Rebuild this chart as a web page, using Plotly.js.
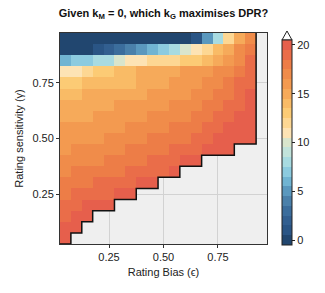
<!DOCTYPE html>
<html><head><meta charset="utf-8">
<script src="https://cdn.plot.ly/plotly-3.0.1.min.js"></script>
<style>html,body{margin:0;padding:0;background:#fff;}#chart{width:325px;height:293px;}</style>
</head><body><div id="chart"></div>
<script>
// Rating bias (epsilon) cell centres
const epsilon = [0.05,0.10,0.15,0.20,0.25,0.30,0.35,0.40,0.45,0.50,0.55,0.60,0.65,0.70,0.75,0.80,0.85,0.90,0.95];
// Rating sensitivity (gamma) cell centres, top row first
const gamma = [0.95,0.90,0.85,0.80,0.75,0.70,0.65,0.60,0.55,0.50,0.45,0.40,0.35,0.30,0.25,0.20,0.15,0.10,0.05];
const N = null;
// best k_G per (gamma row, epsilon column); null = infeasible
const bestKG = [
 [0,0,0,0,0,0,0,0,0,0,0,0,1,5,8,12,15,17,N],
 [0,0,0,1,2,3,4,5,6,7,8,10,11,12,14,15,17,18,N],
 [6,7,7,8,8,10,11,11,12,12,12,13,13,14,15,16,17,19,N],
 [11,11,12,13,13,14,14,15,15,15,15,16,16,16,17,17,18,19,N],
 [13,13,14,14,14,14,14,15,15,15,16,16,16,17,17,18,19,19,N],
 [14,14,15,15,15,15,15,15,16,16,16,16,17,17,18,18,19,20,N],
 [15,15,15,15,15,16,16,16,16,16,17,17,17,18,18,19,19,20,N],
 [15,15,15,16,16,16,16,16,17,17,17,17,18,18,19,19,20,20,N],
 [16,16,16,16,16,16,17,17,17,17,18,18,18,19,19,20,20,20,N],
 [16,16,16,16,17,17,17,17,18,18,18,18,19,19,20,20,20,20,N],
 [16,17,17,17,17,17,18,18,18,18,19,19,19,20,20,20,N,N,N],
 [17,17,17,17,18,18,18,18,19,19,19,20,20,N,N,N,N,N,N],
 [17,18,18,18,18,18,19,19,19,19,20,N,N,N,N,N,N,N,N],
 [18,18,18,19,19,19,19,20,20,N,N,N,N,N,N,N,N,N,N],
 [18,19,19,19,19,20,20,N,N,N,N,N,N,N,N,N,N,N,N],
 [19,19,20,20,20,N,N,N,N,N,N,N,N,N,N,N,N,N,N],
 [19,20,20,N,N,N,N,N,N,N,N,N,N,N,N,N,N,N,N],
 [20,20,N,N,N,N,N,N,N,N,N,N,N,N,N,N,N,N,N],
 [20,N,N,N,N,N,N,N,N,N,N,N,N,N,N,N,N,N,N]
];
const levelColors = ['#21466f','#2a5585','#325f90','#3b6d9c','#4a80aa','#5a98be','#70b4d2','#8ccbdf','#a8dbe1','#c2e3db','#d9e5cc','#fde3b4','#fdd793','#fccb75','#f9bb66','#f6aa5a','#f39a50','#f08c4a','#ed7d47','#ea6d49','#e65f4c'];
const cbTicks = [0,5,10,15,20];
const axisTicks = [0.25,0.50,0.75];
const axisTickText = ['0.25','0.50','0.75'];

// discrete colorscale
const nL = levelColors.length;
const cs = [];
levelColors.forEach((c,i)=>{cs.push([i/nL,c]);cs.push([(i+1)/nL,c]);});

// outline of feasible region derived from the data mask
const hx = (epsilon[1]-epsilon[0])/2, hy = (gamma[0]-gamma[1])/2;
const lowest = epsilon.map((e,j)=>{let yb=null;gamma.forEach((g,i)=>{if(bestKG[i][j]!==null) yb=g;});return yb;});
const ox=[], oy=[];
let last = -1; lowest.forEach((v,j)=>{if(v!==null) last=j;});
ox.push(epsilon[last]+hx); oy.push(gamma[0]+hy);
for(let j=last;j>=0;j--){ if(lowest[j]===null) continue; ox.push(epsilon[j]+hx); oy.push(lowest[j]-hy); ox.push(epsilon[j]-hx); oy.push(lowest[j]-hy);}

const font = 'Liberation Sans, Arial, Helvetica, sans-serif';
const traces = [
 {type:'heatmap', x:epsilon, y:gamma, z:bestKG, zmin:-0.5, zmax:20.5, colorscale:cs, hoverongaps:false,
  colorbar:{x:1.0725, xanchor:'left', xpad:0, thickness:10, lenmode:'pixels', len:205, y:-0.005, yanchor:'bottom', ypad:0,
   tickvals:cbTicks, ticks:'outside', ticklen:3, tickcolor:'#222', outlinewidth:1, outlinecolor:'#222', tickfont:{size:11,color:'#222',family:font}}},
 {type:'scatter', mode:'lines', x:ox, y:oy, line:{color:'#111', width:1.5}, hoverinfo:'skip', showlegend:false, cliponaxis:false}
];
const ax = {ticks:'outside', ticklen:3, tickcolor:'#333', showline:true, mirror:true, linecolor:'#333', linewidth:1,
  gridcolor:'#d2d2d2', gridwidth:1, zeroline:false, tickvals:axisTicks, ticktext:axisTickText, tickfont:{size:11,color:'#222',family:font}};
const layout = {
 width:325, height:293, margin:{l:60, r:58, t:33, b:49}, paper_bgcolor:'#fff', plot_bgcolor:'#efefef', showlegend:false,
 font:{family:font, color:'#222'},
 title:{text:'<b>Given k<sub>M</sub> = 0, which k<sub>G</sub> maximises DPR?</b>', x:0.5, xref:'paper', y:0.955, yanchor:'middle', font:{size:11,color:'#111',family:font}},
 xaxis:Object.assign({}, ax, {range:[0.025,0.975], title:{text:'Rating Bias (ϵ)', font:{size:11}, standoff:6}}),
 yaxis:Object.assign({}, ax, {range:[0.025,0.975], title:{text:'Rating sensitivity (γ)', font:{size:11}, standoff:6}}),
 shapes:[{type:'path', xref:'paper', yref:'paper', path:'M 1.0725 0.9668 L 1.1208 0.9668 L 1.0966 1.0095 Z', fillcolor:'#fff', line:{color:'#222', width:1}}]
};
Plotly.newPlot('chart', traces, layout, {displayModeBar:false, staticPlot:true});
</script></body></html>
